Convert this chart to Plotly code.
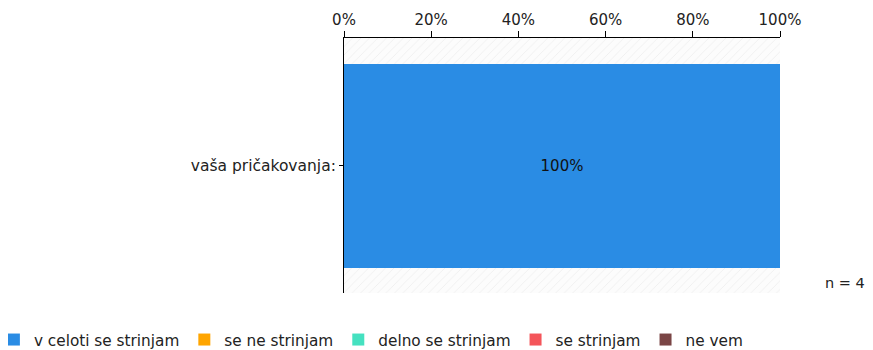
import plotly.graph_objects as go

categories = ["vaša pričakovanja:"]
series_names = ["v celoti se strinjam", "se ne strinjam", "delno se strinjam", "se strinjam", "ne vem"]
series_values = [[100], [0], [0], [0], [0]]
series_colors = ["#2a8ce4", "#ffa500", "#45e1c0", "#f4555a", "#7a4545"]
tick_vals = [0, 20, 40, 60, 80, 100]
tick_text = ["0%", "20%", "40%", "60%", "80%", "100%"]
n_label = "n = 4"

fig = go.Figure()

# hatched background band behind the bars
fig.add_trace(go.Bar(
    y=categories, x=[100], orientation="h", width=1,
    marker=dict(color="#fcfcfc", line=dict(width=0),
                pattern=dict(shape="/", fgcolor="#e4e4e4", bgcolor="#fcfcfc", size=6, solidity=0.15)),
    showlegend=False, hoverinfo="skip",
))

for name, vals, col in zip(series_names, series_values, series_colors):
    fig.add_trace(go.Bar(
        y=categories, x=vals, name=name, orientation="h", yaxis="y2",
        marker=dict(color=col, line=dict(width=0)),
        text=[f"{v}%" if v > 0 else "" for v in vals],
        textposition="inside", insidetextanchor="middle",
        textfont=dict(color="#111", size=15),
    ))

fig.update_layout(
    width=873, height=350,
    barmode="stack", bargap=0.2,
    margin=dict(l=336, r=101, t=30, b=65, autoexpand=False),
    paper_bgcolor="white", plot_bgcolor="white",
    font=dict(family="DejaVu Sans", size=15, color="#222"),
    xaxis=dict(range=[0, 100], side="top", tickvals=tick_vals, ticktext=tick_text,
               showline=True, linecolor="#000", linewidth=1, ticks="outside", ticklen=6,
               tickcolor="#000", showgrid=True, gridcolor="#d8d8d8", griddash="dash",
               zeroline=False, fixedrange=True, layer="above traces",
               tickfont=dict(size=15)),
    yaxis=dict(showline=True, linecolor="#000", linewidth=1, ticks="outside", ticklen=4,
               tickcolor="#000", showgrid=False, fixedrange=True, tickfont=dict(size=15.5)),
    yaxis2=dict(overlaying="y", matches="y", visible=False, fixedrange=True),
    legend=dict(orientation="h", x=-0.803, xanchor="left", y=-0.118, yanchor="top",
                font=dict(size=15.3), traceorder="normal", itemwidth=30),
    uniformtext=dict(minsize=8, mode="show"),
)

fig.add_annotation(text=n_label, xref="paper", yref="paper", x=1.099, y=0.0,
                   xanchor="left", yanchor="bottom", showarrow=False, font=dict(size=14.5))

fig.write_html("out.html")
